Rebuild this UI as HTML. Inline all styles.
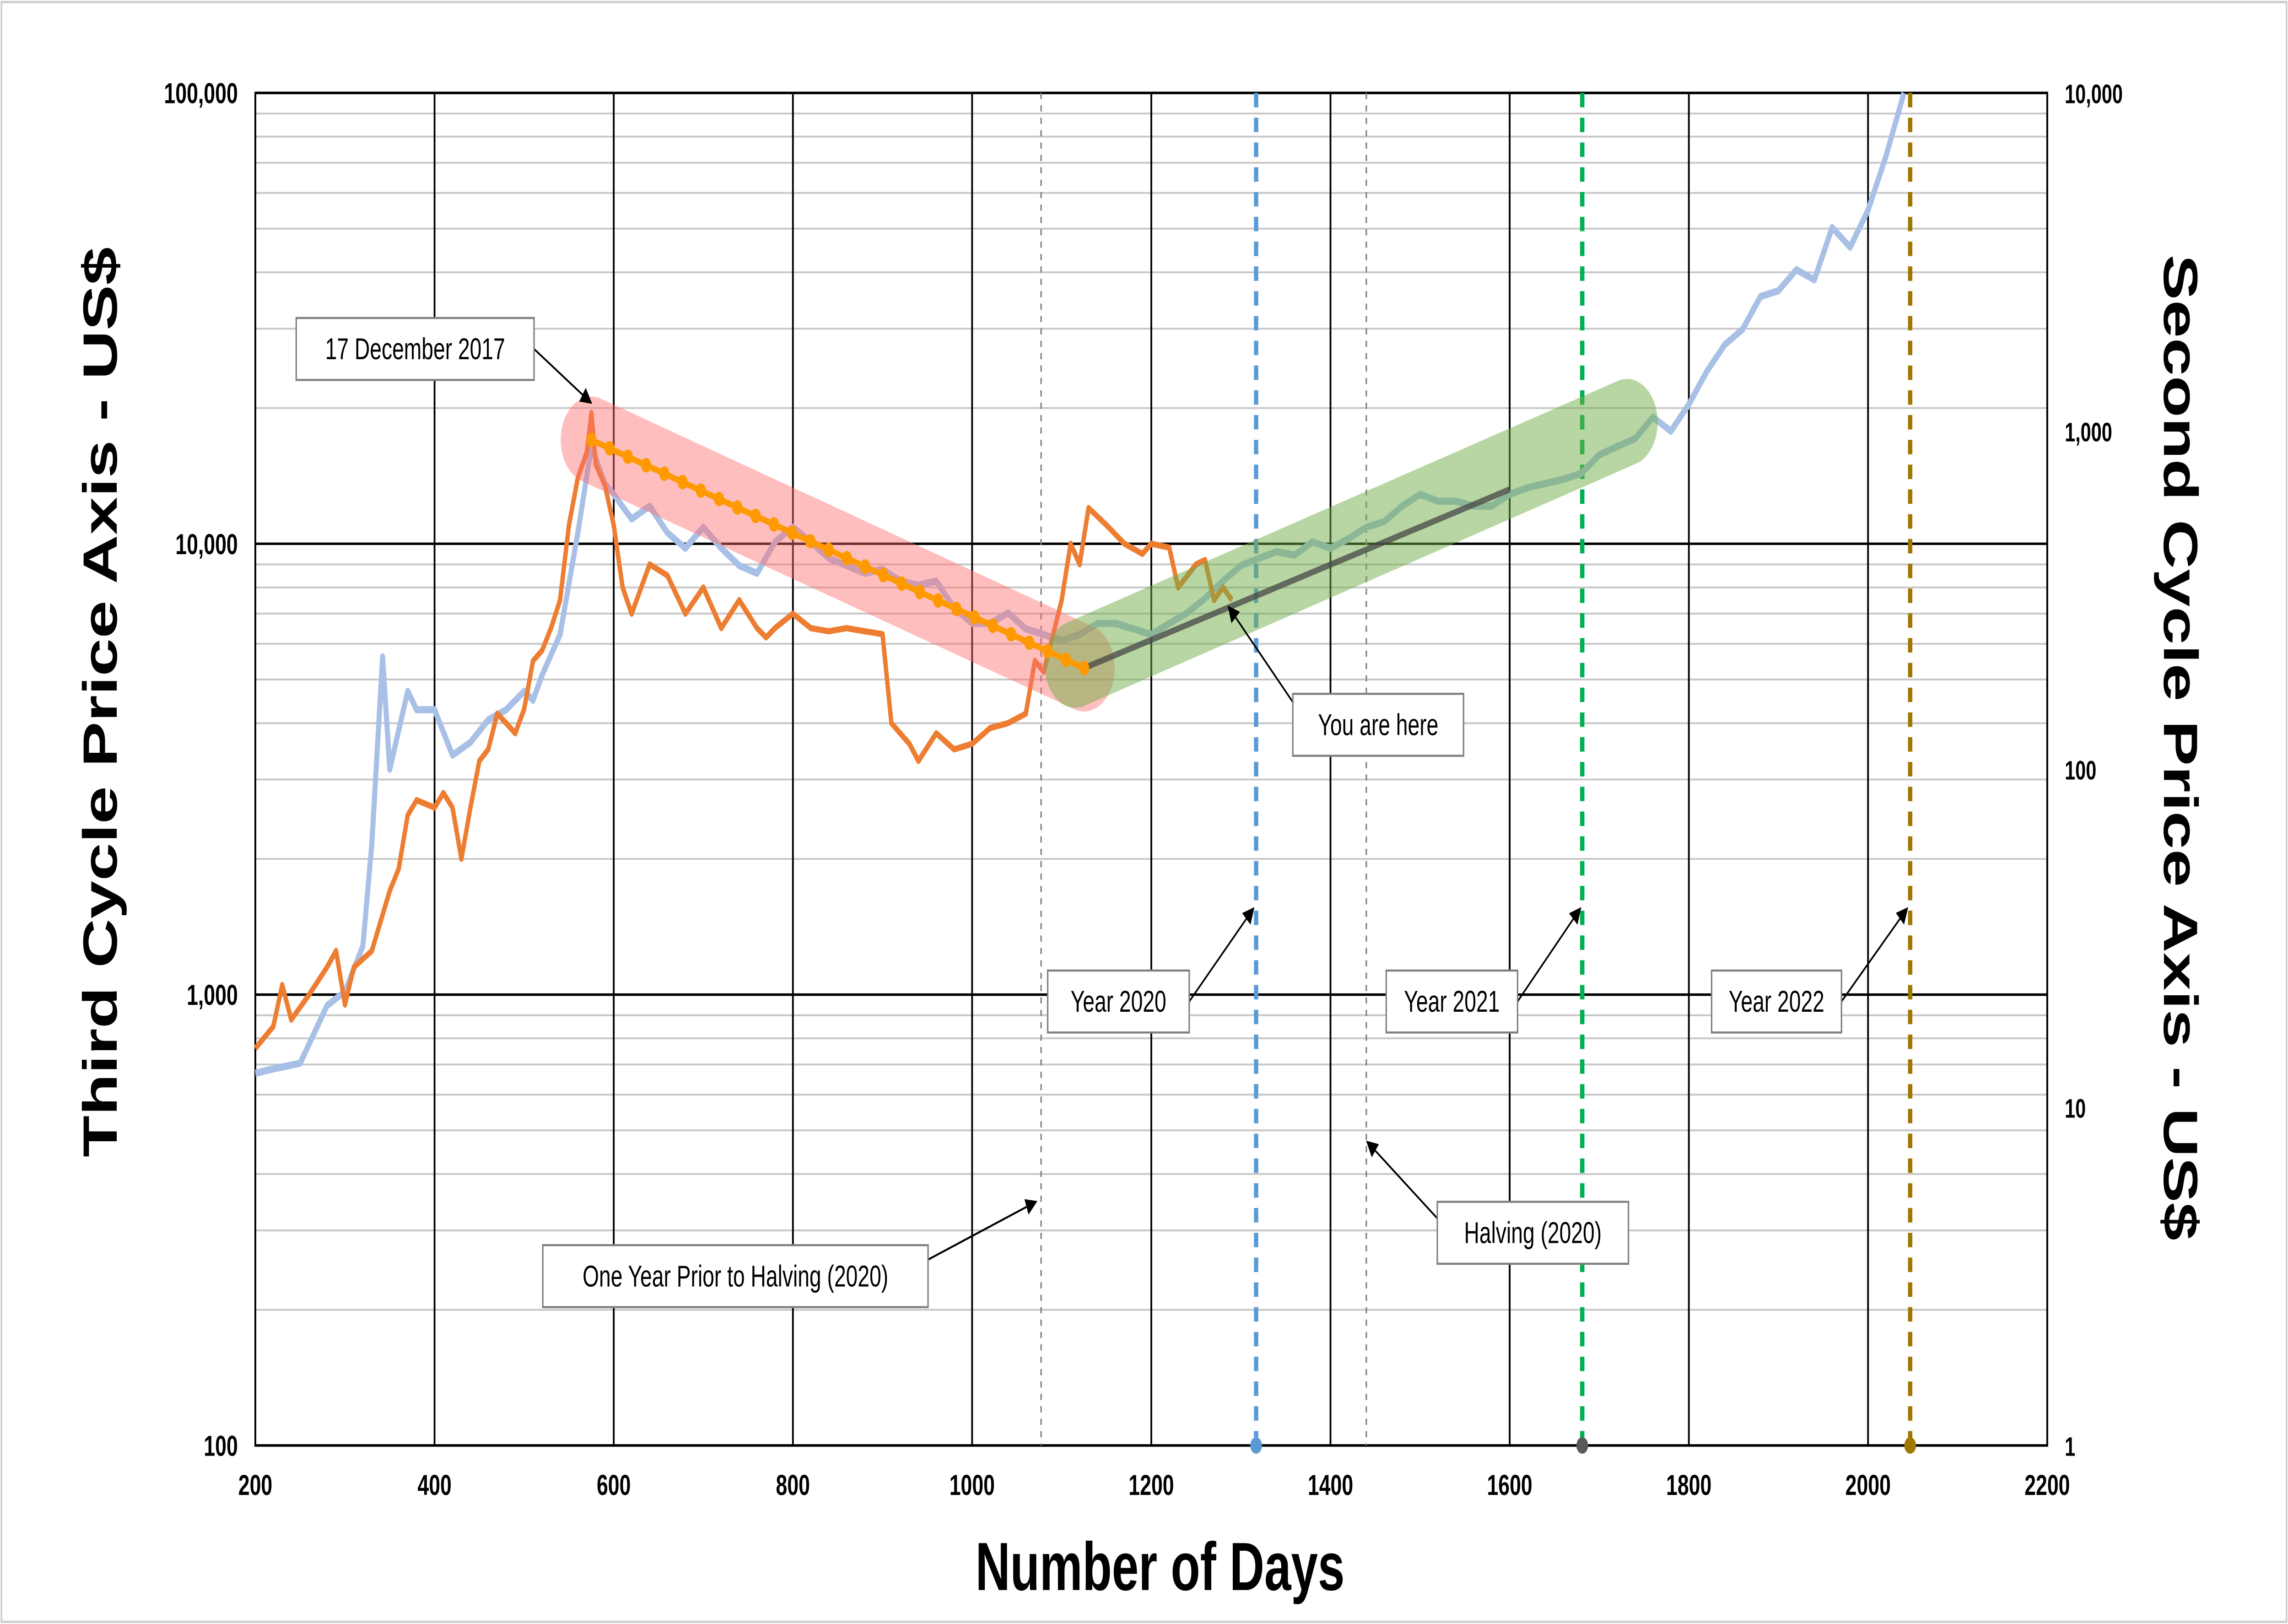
<!DOCTYPE html>
<html><head><meta charset="utf-8">
<style>
html,body{margin:0;padding:0;background:#fff;width:100%;height:100%;overflow:hidden}
svg{display:block;position:absolute;left:0;top:0;width:100vw;height:100vh}
text{font-family:"Liberation Sans",Arial,sans-serif}
</style></head><body>
<svg id="chart" viewBox="0 0 1568 786.45" preserveAspectRatio="none" xmlns="http://www.w3.org/2000/svg">
<rect x="1" y="1" width="1566" height="784.4" fill="#fff" stroke="#d0d0d0" stroke-width="1.2"/>
<g id="grid"></g>
<g id="series"></g>
<g id="overlay"></g>
<g id="labels"></g>
</svg>
<script>
const NS="http://www.w3.org/2000/svg";
const xTicks=[200,400,600,800,1000,1200,1400,1600,1800,2000,2200];
const leftTicks=[100,1000,10000,100000];
const leftTickLabels=["100","1,000","10,000","100,000"];
const rightTicks=[1,10,100,1000,10000];
const rightTickLabels=["1","10","100","1,000","10,000"];
const orangeDays=[200,220,230,240,260,280,290,300,310,330,350,360,370,380,400,410,420,430,440,450,460,470,480,490,500,510,520,530,540,550,560,570,575,580,590,600,610,620,640,660,680,700,720,740,760,770,780,800,820,840,860,880,900,910,930,940,960,980,1000,1020,1040,1060,1070,1080,1100,1110,1120,1130,1150,1170,1190,1200,1220,1230,1250,1260,1270,1280,1290];
const orangeVals=[760,850,1050,880,1000,1150,1250,950,1150,1250,1700,1900,2500,2700,2600,2800,2600,2000,2600,3300,3500,4200,4000,3800,4300,5500,5800,6500,7500,11000,14000,16000,19500,15000,13500,11000,8000,7000,9000,8500,7000,8000,6500,7500,6500,6200,6500,7000,6500,6400,6500,6400,6300,4000,3600,3300,3800,3500,3600,3900,4000,4200,5500,5200,7500,10000,9000,12000,11000,10000,9500,10000,9800,8000,9000,9200,7500,8000,7500];
const blueDays=[200,220,250,280,300,320,330,342,350,360,370,380,400,420,440,460,480,500,510,520,540,560,575,590,600,620,640,660,680,700,720,740,760,780,800,820,840,860,880,900,920,940,960,980,1000,1020,1040,1060,1080,1100,1120,1140,1160,1180,1200,1220,1240,1260,1280,1300,1320,1340,1360,1380,1400,1420,1440,1460,1480,1500,1520,1540,1560,1580,1600,1620,1640,1660,1680,1700,1720,1740,1760,1780,1800,1820,1840,1860,1880,1900,1920,1940,1960,1980,2000,2020,2040];
const blueVals=[12.6,13,13.5,20,22,30,60,215,100,130,170,150,150,110,120,140,150,170,160,190,250,500,900,700,650,550,600,500,450,520,450,400,380,470,520,470,420,400,380,390,360,350,360,300,270,270,290,260,250,240,250,270,270,260,250,270,290,320,360,400,420,440,430,470,450,480,520,540,600,650,620,620,600,600,650,680,700,720,750,850,900,950,1100,1000,1200,1500,1800,2000,2500,2600,3000,2800,4000,3500,4500,6500,10000];
const trendDays=[575,1125];const trendVals=[17000,5300];
const greenDays=[1115,1731];const greenVals=[5400,18600];
const grayDays=[1125,1600];const grayVals=[5300,13200];
const vlineDays=[1077,1317,1440,1681,2047];
const L=175,R=1403,T=45,B=700;
const xs=d=>L+(d-200)/2000*(R-L);
const yl=v=>T+(5-Math.log10(v))/3*(B-T);
const yr=v=>T+(4-Math.log10(v))/4*(B-T);
function mk(tag,attrs,parent){const e=document.createElementNS(NS,tag);for(const k in attrs)e.setAttribute(k,attrs[k]);parent.appendChild(e);return e;}
const grid=document.getElementById('grid'),ser=document.getElementById('series'),ov=document.getElementById('overlay'),lab=document.getElementById('labels');
for(let dec=2;dec<5;dec++){for(let m=2;m<10;m++){const y=yl(m*Math.pow(10,dec));const l=mk('line',{x1:L,x2:R,y1:y,y2:y,stroke:'#c8c8c8','stroke-width':0.9},grid);

}}
leftTicks.forEach((v,i)=>{const y=yl(v);const l=mk('line',{x1:L,x2:R,y1:y,y2:y,stroke:'#000','stroke-width':1.2},grid);


const t=mk('text',{x:L-12,y:y+5,'text-anchor':'end','font-size':14,'font-weight':'bold'},lab);t.textContent=leftTickLabels[i];

});
rightTicks.forEach((v,i)=>{const y=yr(v);const t=mk('text',{x:R+12,y:y+5,'text-anchor':'start','font-size':13,'font-weight':'bold'},lab);t.textContent=rightTickLabels[i];

});
xTicks.forEach(d=>{const x=xs(d);const l=mk('line',{x1:x,x2:x,y1:T,y2:B,stroke:'#000','stroke-width':1.2},grid);


const t=mk('text',{x:x,y:B+24,'text-anchor':'middle','font-size':14,'font-weight':'bold'},lab);t.textContent=d;

});
const pa=mk('rect',{x:L,y:T,width:R-L,height:B-T,fill:'none',stroke:'#000','stroke-width':1.2},grid);


const vcol=['#808080','#5b9bd5','#808080','#00b050','#a07800'];const vw=[1,3,1,3,3];const vdash=['3,3','7,5','3,3','7,5','7,5'];
vlineDays.forEach((d,i)=>{const x=xs(d);const l=mk('line',{x1:x,x2:x,y1:T,y2:B,stroke:vcol[i],'stroke-width':vw[i],'stroke-dasharray':vdash[i]},ser);


if(vw[i]>1){const c=mk('circle',{cx:x,cy:B,r:4,fill:i==3?'#595959':vcol[i]},ser);

}});
const bp=blueDays.map((d,i)=>xs(d).toFixed(1)+','+yr(blueVals[i]).toFixed(1)).join(' ');
const bl=mk('polyline',{points:bp,fill:'none',stroke:'#a9c0e6','stroke-width':3.5,'stroke-linejoin':'round'},ser);


const op=orangeDays.map((d,i)=>xs(d).toFixed(1)+','+yl(orangeVals[i]).toFixed(1)).join(' ');
const ol=mk('polyline',{points:op,fill:'none',stroke:'#ed7d31','stroke-width':3,'stroke-linejoin':'round'},ser);


const pb=mk('line',{x1:xs(trendDays[0]),y1:yl(trendVals[0]),x2:xs(trendDays[1]),y2:yl(trendVals[1]),stroke:'rgba(255,110,110,0.45)','stroke-width':42,'stroke-linecap':'round'},ov);


const gb=mk('line',{x1:xs(greenDays[0]),y1:yl(greenVals[0]),x2:xs(greenDays[1]),y2:yl(greenVals[1]),stroke:'rgba(112,173,71,0.5)','stroke-width':42,'stroke-linecap':'round'},ov);


const gl=mk('line',{x1:xs(grayDays[0]),y1:yl(grayVals[0]),x2:xs(grayDays[1]),y2:yl(grayVals[1]),stroke:'rgba(70,70,70,0.75)','stroke-width':3},ov);


const tl=mk('line',{x1:xs(trendDays[0]),y1:yl(trendVals[0]),x2:xs(trendDays[1]),y2:yl(trendVals[1]),stroke:'#ff9900','stroke-width':3},ov);


for(let k=0;k<=27;k++){const f=k/27;const d=trendDays[0]+f*(trendDays[1]-trendDays[0]);const v=Math.pow(10,Math.log10(trendVals[0])+f*(Math.log10(trendVals[1])-Math.log10(trendVals[0])));
const c=mk('circle',{cx:xs(d),cy:yl(v),r:3.5,fill:'#ff9900'},ov);

}
mk('defs',{},ov).innerHTML='<marker id="ah" markerWidth="8" markerHeight="8" refX="7" refY="4" orient="auto"><path d="M0,0 L8,4 L0,8 z" fill="#000"/></marker>';
const ann=[["17 December 2017",203,154,163,30,366,169,405,195],["You are here",886,336,117,30,886,340,842,294],["Year 2020",718,470,97,30,815,485,859,440],["Year 2021",950,470,90,30,1040,485,1083,440],["Year 2022",1173,470,89,30,1262,485,1307,440],["One Year Prior to Halving (2020)",372,603,264,30,636,610,710,582],["Halving (2020)",985,582,131,30,985,590,937,553]];
ann.forEach(a=>{const ar=mk('line',{x1:a[5],y1:a[6],x2:a[7],y2:a[8],stroke:'#000','stroke-width':1,'marker-end':'url(#ah)'},lab);


const r=mk('rect',{x:a[1],y:a[2],width:a[3],height:a[4],fill:'#fff',stroke:'#7f7f7f','stroke-width':1},lab);


const t=mk('text',{x:a[1]+a[3]/2,y:a[2]+20,'text-anchor':'middle','font-size':14.5},lab);t.textContent=a[0];

});
let t=mk('text',{x:795,y:770,'text-anchor':'middle','font-size':33,'font-weight':'bold'},lab);t.textContent='Number of Days';


t=mk('text',{x:0,y:0,'text-anchor':'middle','font-size':33,'font-weight':'bold',transform:'translate(80,340) rotate(-90)'},lab);t.textContent='Third Cycle Price Axis - US$';


t=mk('text',{x:0,y:0,'text-anchor':'middle','font-size':33,'font-weight':'bold',transform:'translate(1483,362) rotate(90)'},lab);t.textContent='Second Cycle Price Axis - US$';


</script>
</body></html>
